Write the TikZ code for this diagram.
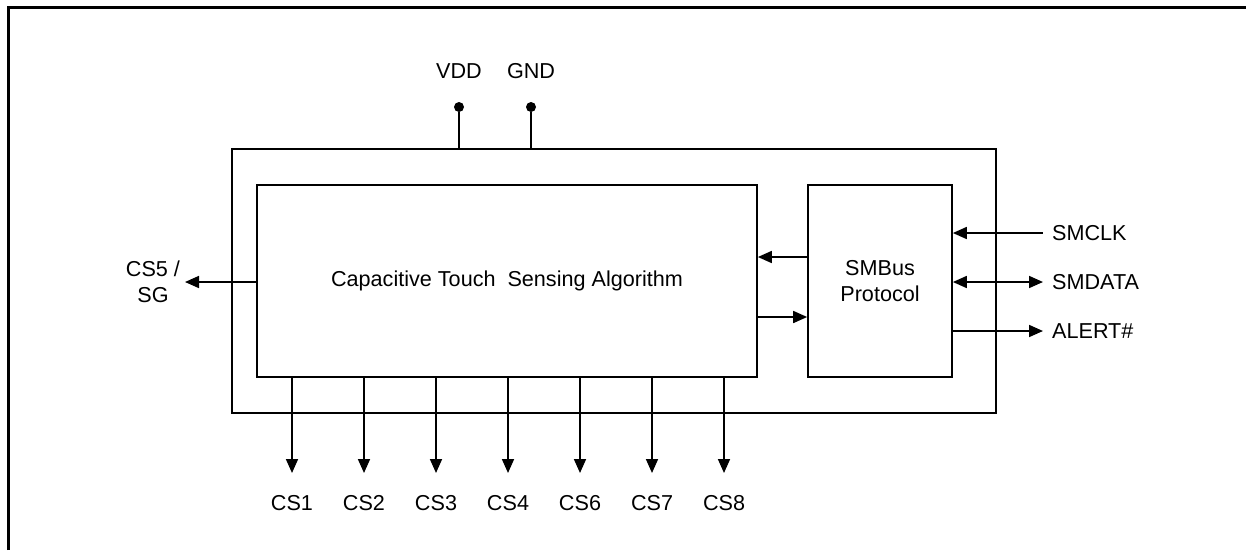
\documentclass[tikz,border=0pt]{standalone}
\usepackage{fontspec}
\setmainfont{Liberation Sans}
\usepackage{tikz}
\usetikzlibrary{arrows.meta}
\tikzstyle{every node}=[inner sep=2pt,font=\fontsize{21.6}{26}\selectfont]
\tikzstyle{block}=[draw=black,line width=1.7pt,inner sep=0pt]
\tikzstyle{wire}=[line width=1.7pt]
\tikzstyle{pindot}=[circle,fill=black,inner sep=0pt,minimum size=10pt]

\begin{document}
\begin{tikzpicture}[x=1pt,y=-1pt,>={Triangle[length=14pt,width=12pt]}]
\useasboundingbox (0,0) rectangle (1246,550);
\draw[line width=2.6pt] (8.5,550) -- (8.5,7.5) -- (1246,7.5);
% blocks
\node[block,minimum width=764pt,minimum height=264pt] (chip) at (614,281) {};
\node[block,minimum width=500pt,minimum height=192pt] (algo) at (507,281)
	{Capacitive Touch\ \ Sensing Algorithm};
\node[block,minimum width=144pt,minimum height=192pt,align=center] (smbus) at (880,281)
	{SMBus\\Protocol};
% supply pins
\node[pindot] (vdd) at (459,107) {};
\node[pindot] (gnd) at (531,107) {};
\node (vddlbl) at (459,71) {VDD};
\node (gndlbl) at (531,71) {GND};
\draw[wire] (vdd) -- (vdd |- chip.north);
\draw[wire] (gnd) -- (gnd |- chip.north);
% internal bus
\draw[wire,->] (smbus.west |- 0,257) -- (algo.east |- 0,257);
\draw[wire,->] (algo.east |- 0,317) -- (smbus.west |- 0,317);
% CS5 / SG
\coordinate (sgend) at (185,282);
\node[align=center] (sg) at (153,282) {CS5 /\\SG};
\draw[wire,->] (algo.west |- sgend) -- (sgend);
% sensor outputs
\foreach \n [count=\i] in {1,2,3,4,6,7,8} {
	\coordinate (cs\n end) at ({292+(\i-1)*72},473);
	\node (cs\n) at ({292+(\i-1)*72},503) {CS\n};
	\draw[wire,->] (algo.south -| cs\n end) -- (cs\n end);
}
% SMBus lines
\coordinate (clkend) at (1043,233);
\coordinate (dataend) at (1043,282);
\coordinate (alertend) at (1043,331);
\node[anchor=west] (smclk) at (1050,233) {SMCLK};
\node[anchor=west] (smdata) at (1050,282) {SMDATA};
\node[anchor=west] (alert) at (1050,331) {ALERT\#};
\draw[wire,<-] (smbus.east |- clkend) -- (clkend);
\draw[wire,<->] (smbus.east |- dataend) -- (dataend);
\draw[wire,->] (smbus.east |- alertend) -- (alertend);
\end{tikzpicture}
\end{document}
